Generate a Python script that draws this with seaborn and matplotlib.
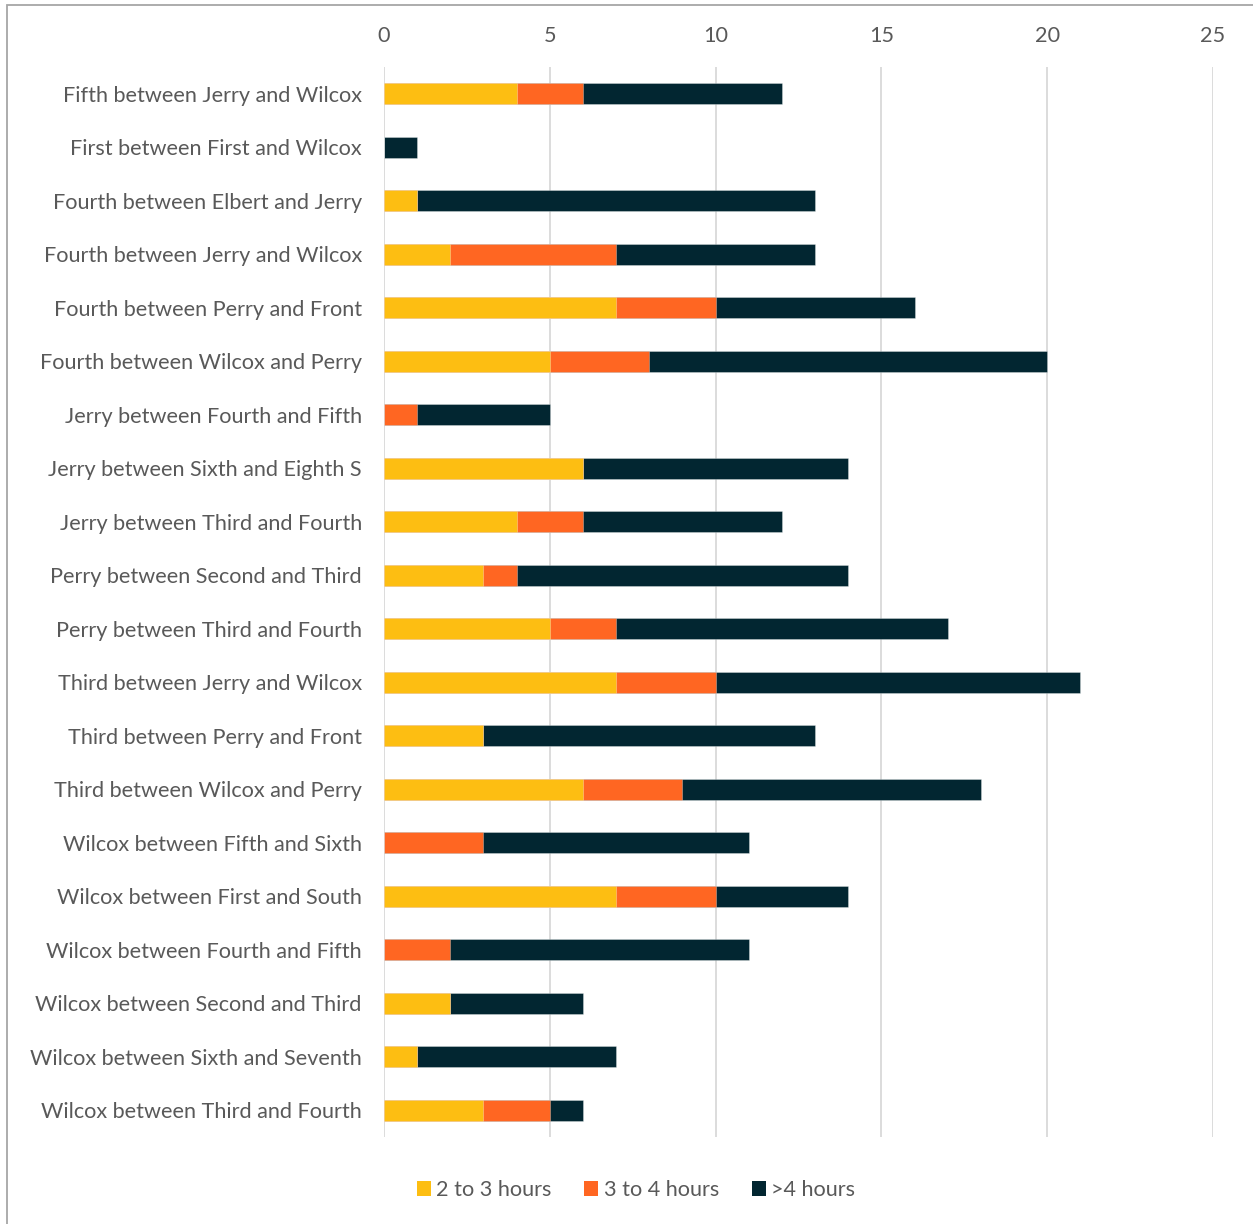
import numpy as np
import pandas as pd
import matplotlib
matplotlib.use("Agg")
import matplotlib.pyplot as plt
import matplotlib.patches as mpatches
import seaborn as sns

streets = [
    "Fifth between Jerry and Wilcox",
    "First between First and Wilcox",
    "Fourth between Elbert and Jerry",
    "Fourth between Jerry and Wilcox",
    "Fourth between Perry and Front",
    "Fourth between Wilcox and Perry",
    "Jerry between Fourth and Fifth",
    "Jerry between Sixth and Eighth S",
    "Jerry between Third and Fourth",
    "Perry between Second and Third",
    "Perry between Third and Fourth",
    "Third between Jerry and Wilcox",
    "Third between Perry and Front",
    "Third between Wilcox and Perry",
    "Wilcox between Fifth and Sixth",
    "Wilcox between First and South",
    "Wilcox between Fourth and Fifth",
    "Wilcox between Second and Third",
    "Wilcox between Sixth and Seventh",
    "Wilcox between Third and Fourth",
]
two_to_three = [4, 0, 1, 2, 7, 5, 0, 6, 4, 3, 5, 7, 3, 6, 0, 7, 0, 2, 1, 3]
three_to_four = [2, 0, 0, 5, 3, 3, 1, 0, 2, 1, 2, 3, 0, 3, 3, 3, 2, 0, 0, 2]
over_four = [6, 1, 12, 6, 6, 12, 4, 8, 6, 10, 10, 11, 10, 9, 8, 4, 9, 4, 6, 1]

series_names = ["2 to 3 hours", "3 to 4 hours", ">4 hours"]
colors = ["#FDBE12", "#FF6622", "#022631"]
x_ticks = [0, 5, 10, 15, 20, 25]

df = pd.DataFrame({
    "street": streets,
    "a": two_to_three,
    "b": three_to_four,
    "c": over_four,
})
df["cum_a"] = df["a"]
df["cum_b"] = df["a"] + df["b"]
df["cum_c"] = df["a"] + df["b"] + df["c"]

sns.set_theme(style="white")
plt.rcParams["font.family"] = ["Lato", "DejaVu Sans"]

fig = plt.figure(figsize=(12.53, 12.24), dpi=100)
W, H = 1253, 1224
ax = fig.add_axes([384 / W, 1 - 1137 / H, (1213 - 384) / W, (1137 - 67) / H])

# stacked bars drawn as cumulative layers, widest first
edge = dict(edgecolor=(1, 1, 1, 0.35), linewidth=0.6)
for col, c in zip(["cum_c", "cum_b", "cum_a"], colors[::-1]):
    sns.barplot(data=df, x=col, y="street", order=streets, orient="h",
                color=c, width=0.4, saturation=1, ax=ax, **edge)

ax.set_xlim(0, 25)
ax.set_ylim(len(streets) - 0.5, -0.5)
ax.set_xticks(x_ticks)
ax.xaxis.tick_top()
ax.set_xlabel("")
ax.set_ylabel("")
for s in ax.spines.values():
    s.set_visible(False)
ax.grid(axis="x", color="#d9d9d9", linewidth=1.3)
ax.set_axisbelow(True)
fs = 15.6
ax.tick_params(axis="x", length=0, pad=15, labelsize=fs, labelcolor="#595959")
ax.tick_params(axis="y", length=0, pad=16, labelsize=fs, labelcolor="#595959")

handles = [mpatches.Patch(facecolor=c, edgecolor="none", label=n)
           for n, c in zip(series_names, colors)]
fig.legend(handles=handles, loc="center", bbox_to_anchor=(636 / W, 1 - 1190 / H),
           ncol=3, frameon=False, fontsize=fs, labelcolor="#595959",
           handlelength=0.65, handleheight=0.65, handletextpad=0.25,
           columnspacing=1.5)

# chart frame
fig.patches.append(mpatches.Rectangle((7 / W, -0.1), 1.2, 1.1 - 5 / H,
                                      transform=fig.transFigure, fill=False,
                                      edgecolor="#a6a6a6", linewidth=1.3,
                                      clip_on=False))

fig.savefig("out.png", dpi=100)
